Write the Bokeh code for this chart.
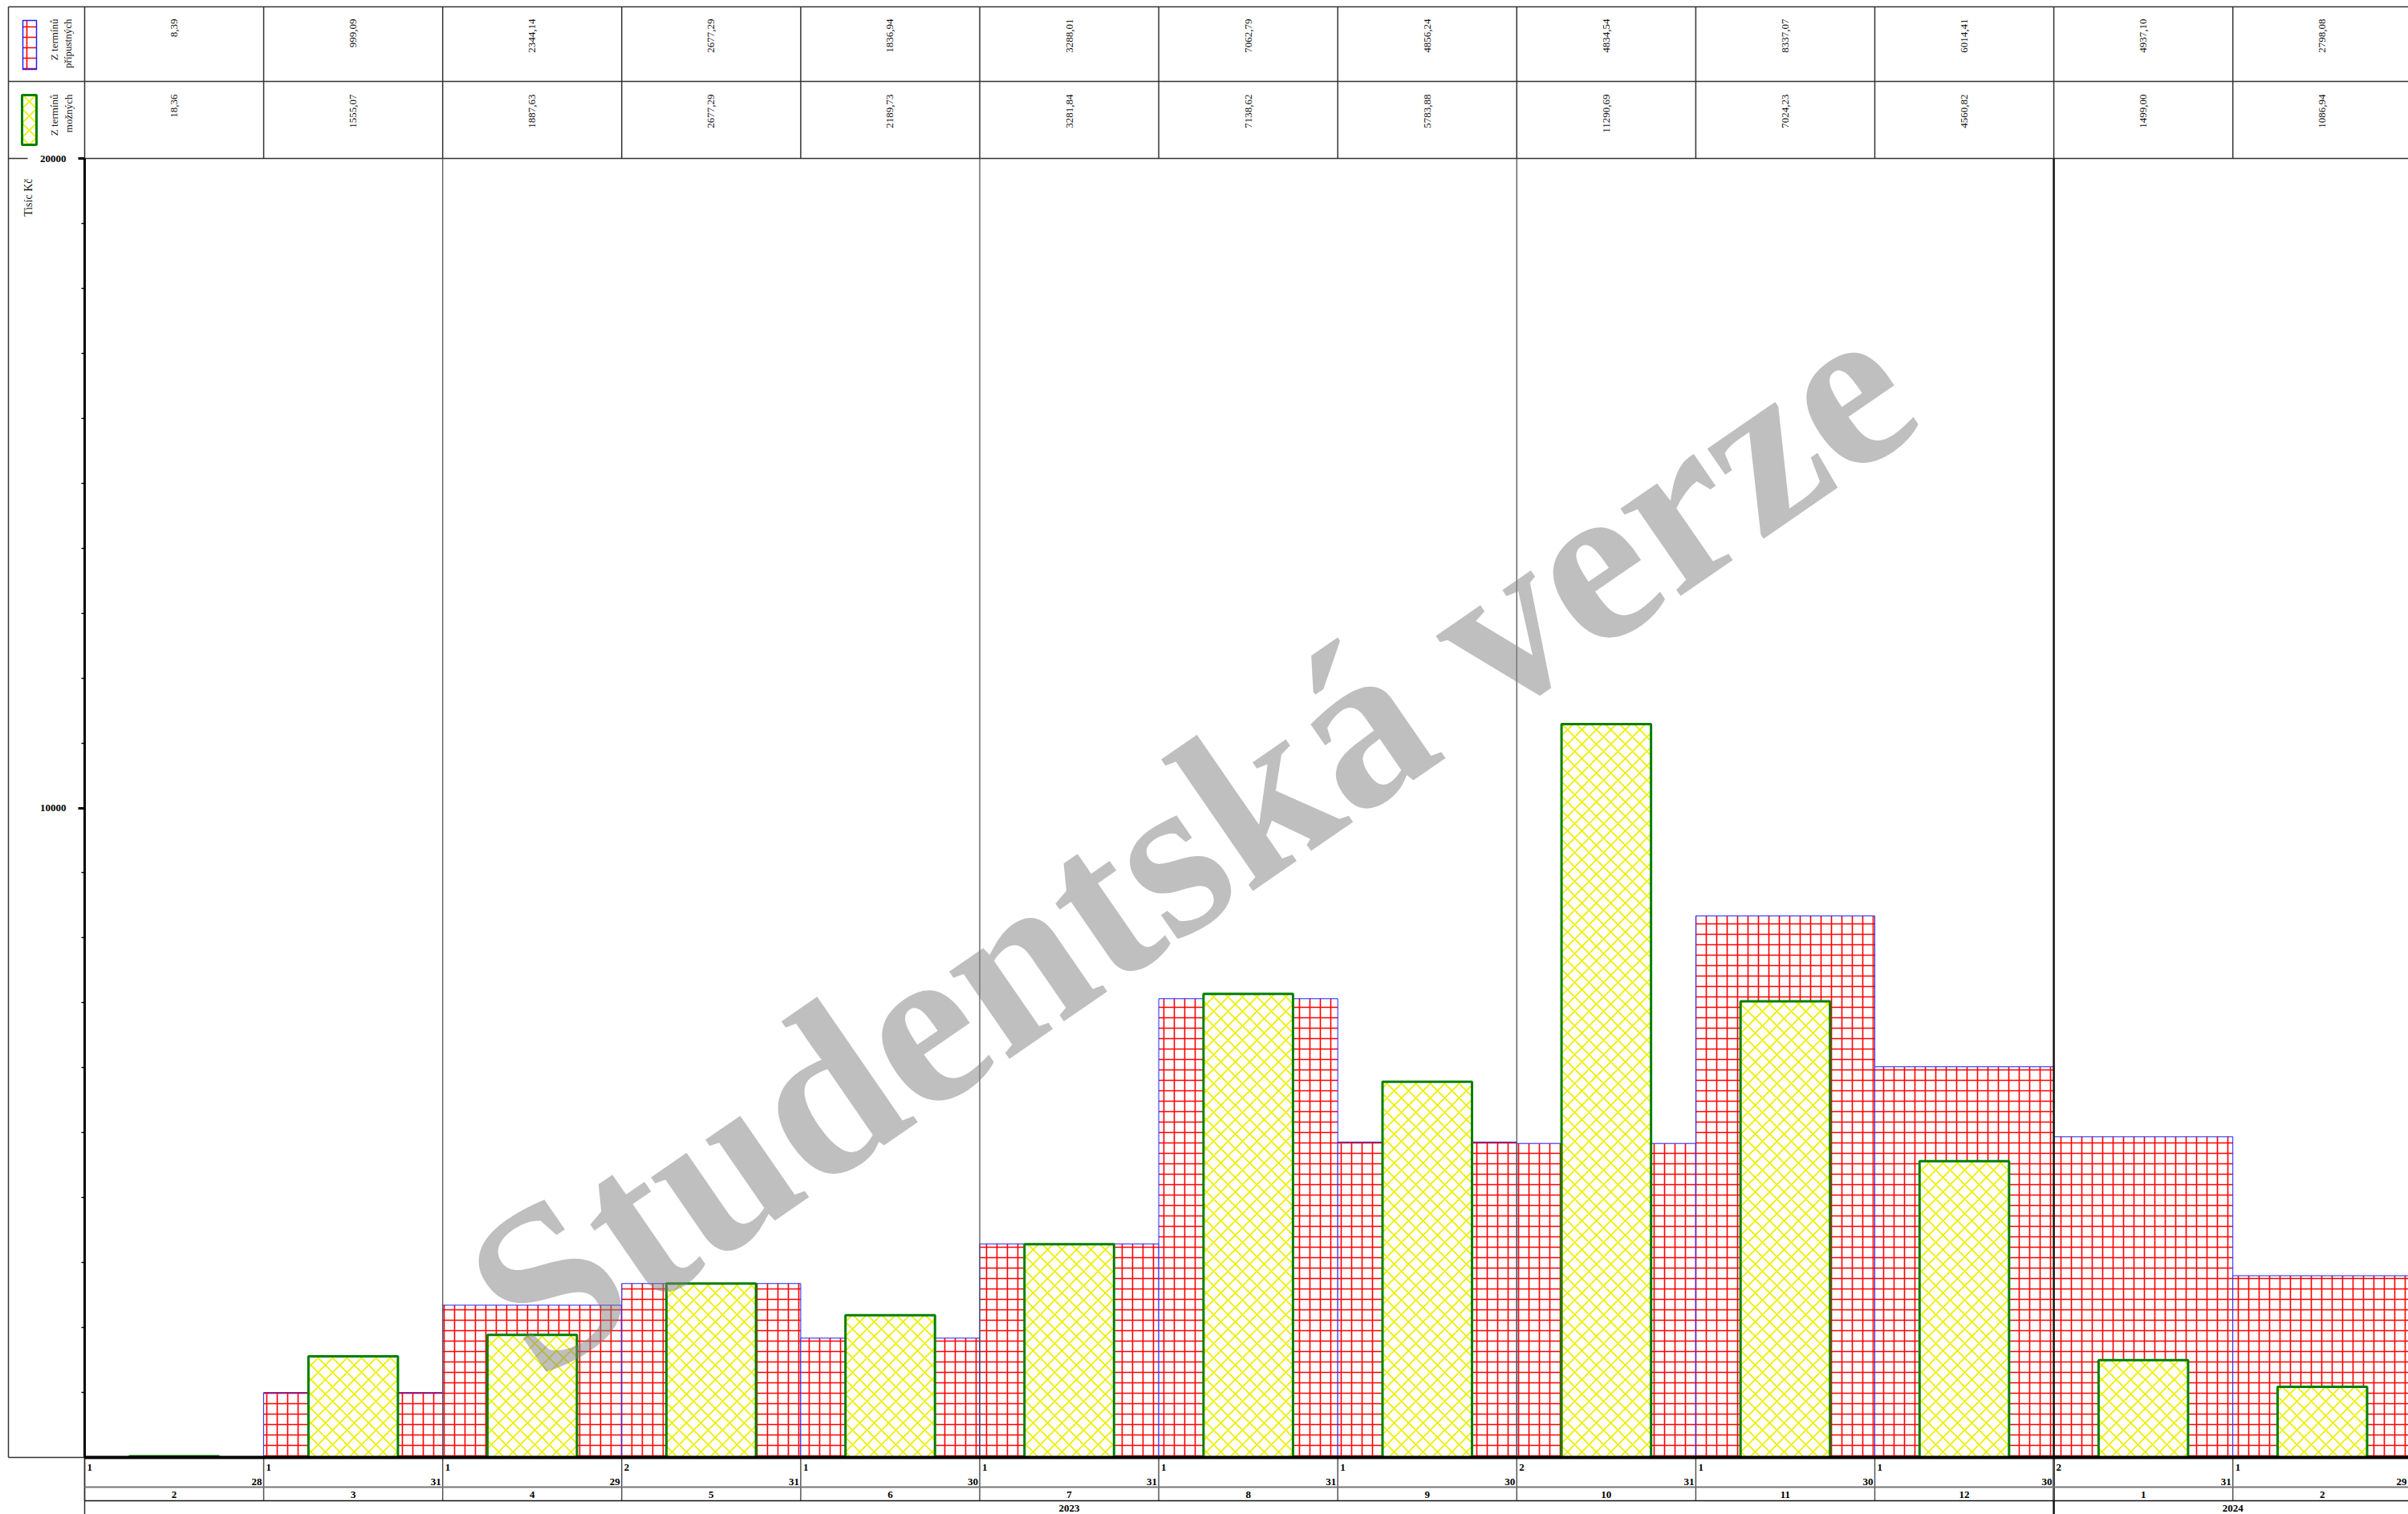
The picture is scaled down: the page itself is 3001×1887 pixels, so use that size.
import math
from bokeh.plotting import figure
from bokeh.models import Range1d, LinearAxis, FixedTicker
from bokeh.core.properties import value
from bokeh.embed import file_html
from bokeh.resources import INLINE

# ---------------- data ----------------
months = ["2", "3", "4", "5", "6", "7", "8", "9", "10", "11", "12", "1", "2"]
years = ["2023"] * 11 + ["2024"] * 2
first_days = ["1", "1", "1", "2", "1", "1", "1", "1", "2", "1", "1", "2", "1"]
last_days = ["28", "31", "29", "31", "30", "31", "31", "30", "31", "30", "30", "31", "29"]
pripustne = [8.39, 999.09, 2344.14, 2677.29, 1836.94, 3288.01, 7062.79,
             4856.24, 4834.54, 8337.07, 6014.41, 4937.10, 2798.08]
mozne = [18.36, 1555.07, 1887.63, 2677.29, 2189.73, 3281.84, 7138.62,
         5783.88, 11290.69, 7024.23, 4560.82, 1499.00, 1086.94]
series_names = [["Z termínů", "přípustných"], ["Z termínů", "možných"]]
y_ticks = [10000, 20000]
y_minor = list(range(1000, 20000, 1000))
y_max = 20000
y_label = "Tisíc Kč"
watermark = "Studentská verze"

# ---------------- layout (page pixels) ----------------
W, H = 3001, 1887
PX_LEFT = 105.0     # plot left edge
MW = 223.1          # width of one month
PY_TOP = 197.0      # plot top (20000)
PY_AXIS = 1816.0    # y = 0
KY = (PY_AXIS - PY_TOP) / y_max


def xd(px):
    return (px - PX_LEFT) / MW


def yd(py):
    return (PY_AXIS - py) / KY


n = len(months)
SERIF = value("Liberation Serif")

p = figure(width=W, height=H, x_range=Range1d(xd(0), xd(W)), y_range=Range1d(yd(H), yd(0)),
           x_axis_type=None, y_axis_type=None, toolbar_location=None,
           output_backend="svg", min_border=0, outline_line_color=None,
           background_fill_color="white", border_fill_color="white")

# ---------------- bars ----------------
idx = list(range(n))
p.quad(left=idx, right=[i + 1 for i in idx], bottom=0, top=pripustne,
       fill_color="white", hatch_pattern="+", hatch_color="#ff0000", hatch_scale=13,
       hatch_weight=1.6, line_color="#2020ff", line_width=1)
p.quad(left=[i + 0.25 for i in idx], right=[i + 0.75 for i in idx], bottom=0, top=mozne,
       fill_color="white", hatch_pattern="x", hatch_color="#eeee00", hatch_scale=18,
       hatch_weight=1.7, line_color="#008000", line_width=3)

# ---------------- table / grid lines ----------------
LC = "#333333"
X_LB = 10       # outer left border
Y_T = 8         # table top
Y_R = 101       # row separator
p.segment(x0=[xd(X_LB), xd(X_LB)], y0=[yd(Y_T), yd(Y_R)], x1=[xd(W), xd(W)], y1=[yd(Y_T), yd(Y_R)],
          line_color=LC, line_width=1.5)
p.segment(x0=[0, xd(X_LB)], y0=[y_max, y_max], x1=[xd(W), xd(34)], y1=[y_max, y_max],
          line_color=LC, line_width=1.5)
p.segment(x0=[xd(X_LB), xd(X_LB)], y0=[yd(Y_T), 0], x1=[xd(X_LB), 0], y1=[0, 0],
          line_color=LC, line_width=1.5)
p.segment(x0=list(range(0, n)), y0=yd(Y_T), x1=list(range(0, n)), y1=y_max,
          line_color=LC, line_width=1.5)
q = [2, 5, 8]
p.segment(x0=q, y0=0, x1=q, y1=y_max, line_color="#555555", line_width=1.3)
p.segment(x0=[11], y0=[yd(H)], x1=[11], y1=[y_max], line_color="#111111", line_width=2.5)
p.segment(x0=list(range(0, n)), y0=0, x1=list(range(0, n)), y1=yd(1870),
          line_color="#555555", line_width=1.5)
p.segment(x0=[0], y0=[0], x1=[0], y1=[yd(H)], line_color=LC, line_width=1.5)
p.segment(x0=[0], y0=[yd(1853)], x1=[xd(W)], y1=[yd(1853)], line_color="#777777", line_width=2)
p.segment(x0=[0], y0=[yd(1870)], x1=[xd(W)], y1=[yd(1870)], line_color="#111111", line_width=1.5)

# ---------------- axes ----------------
yaxis = LinearAxis(fixed_location=0,
                   ticker=FixedTicker(ticks=y_ticks, minor_ticks=y_minor),
                   bounds=(0, y_max), axis_line_width=3, axis_line_color="black",
                   major_tick_out=8, major_tick_in=0, major_tick_line_width=3,
                   minor_tick_out=4, minor_tick_in=0, minor_tick_line_width=1.5,
                   major_label_text_font="Liberation Serif", major_label_text_font_style="bold",
                   major_label_text_font_size="13px", major_label_standoff=15,
                   major_label_text_color="black")
p.add_layout(yaxis, "left")
xaxis = LinearAxis(fixed_location=0, ticker=FixedTicker(ticks=[]), bounds=(0, n),
                   axis_line_width=4, axis_line_color="black",
                   major_tick_out=0, major_tick_in=0, minor_tick_out=0, minor_tick_in=0,
                   major_label_text_font_size="0px")
p.add_layout(xaxis, "below")

# ---------------- header texts ----------------
centers = [i + 0.5 for i in idx]
fmt = lambda v: f"{v:.2f}".replace(".", ",")
p.text(x=centers, y=yd(23), text=[fmt(v) for v in pripustne], angle=math.pi / 2,
       text_align="right", text_baseline="middle", text_font=SERIF, text_font_size="13px",
       text_color="#111111")
p.text(x=centers, y=yd(117), text=[fmt(v) for v in mozne], angle=math.pi / 2,
       text_align="right", text_baseline="middle", text_font=SERIF, text_font_size="13px",
       text_color="#111111")

# legend swatches
p.quad(left=[xd(28)], right=[xd(45)], bottom=[yd(86)], top=[yd(25)], fill_color="white",
       hatch_pattern="+", hatch_color="#ff0000", hatch_scale=13, hatch_weight=1.6,
       line_color="#2020ff", line_width=1.5)
p.quad(left=[xd(27)], right=[xd(45)], bottom=[yd(180)], top=[yd(118)], fill_color="white",
       hatch_pattern="x", hatch_color="#eeee00", hatch_scale=18, hatch_weight=1.7,
       line_color="#008000", line_width=3)
p.text(x=[xd(67), xd(84)], y=yd(23), text=series_names[0], angle=math.pi / 2,
       text_align="right", text_baseline="middle", text_font=SERIF, text_font_size="13px",
       text_color="#111111")
p.text(x=[xd(67), xd(85)], y=yd(117), text=series_names[1], angle=math.pi / 2,
       text_align="right", text_baseline="middle", text_font=SERIF, text_font_size="13px",
       text_color="#111111")
p.text(x=[xd(35)], y=[yd(222)], text=[y_label], angle=math.pi / 2,
       text_align="right", text_baseline="middle", text_font=SERIF, text_font_size="14px",
       text_color="#111111")

# ---------------- x-axis texts ----------------
p.text(x=[i + 3 / MW for i in idx], y=yd(1828), text=first_days, text_align="left",
       text_baseline="middle", text_font=SERIF, text_font_style="bold", text_font_size="13px",
       text_color="black")
end_x = [min(i + 1 - 2 / MW, xd(W - 2)) for i in idx]
p.text(x=end_x, y=yd(1846), text=last_days, text_align="right",
       text_baseline="middle", text_font=SERIF, text_font_style="bold", text_font_size="13px",
       text_color="black")
p.text(x=centers, y=yd(1862), text=months, text_align="center",
       text_baseline="middle", text_font=SERIF, text_font_style="bold", text_font_size="13px",
       text_color="black")
year_names = []
year_centers = []
for yv in dict.fromkeys(years):
    ii = [i for i, v in enumerate(years) if v == yv]
    year_names.append(yv)
    year_centers.append((ii[0] + ii[-1] + 1) / 2)
p.text(x=year_centers, y=yd(1879), text=year_names, text_align="center",
       text_baseline="middle", text_font=SERIF, text_font_style="bold", text_font_size="13px",
       text_color="black")

# ---------------- watermark ----------------
p.text(x=[xd(1482)], y=[yd(1046)], text=[watermark], angle=math.radians(34.6),
       text_align="center", text_baseline="middle", text_font=SERIF, text_font_style="bold",
       text_font_size="288px", text_color="#808080", text_alpha=0.5)

open("out.html", "w").write(file_html(p, INLINE))
